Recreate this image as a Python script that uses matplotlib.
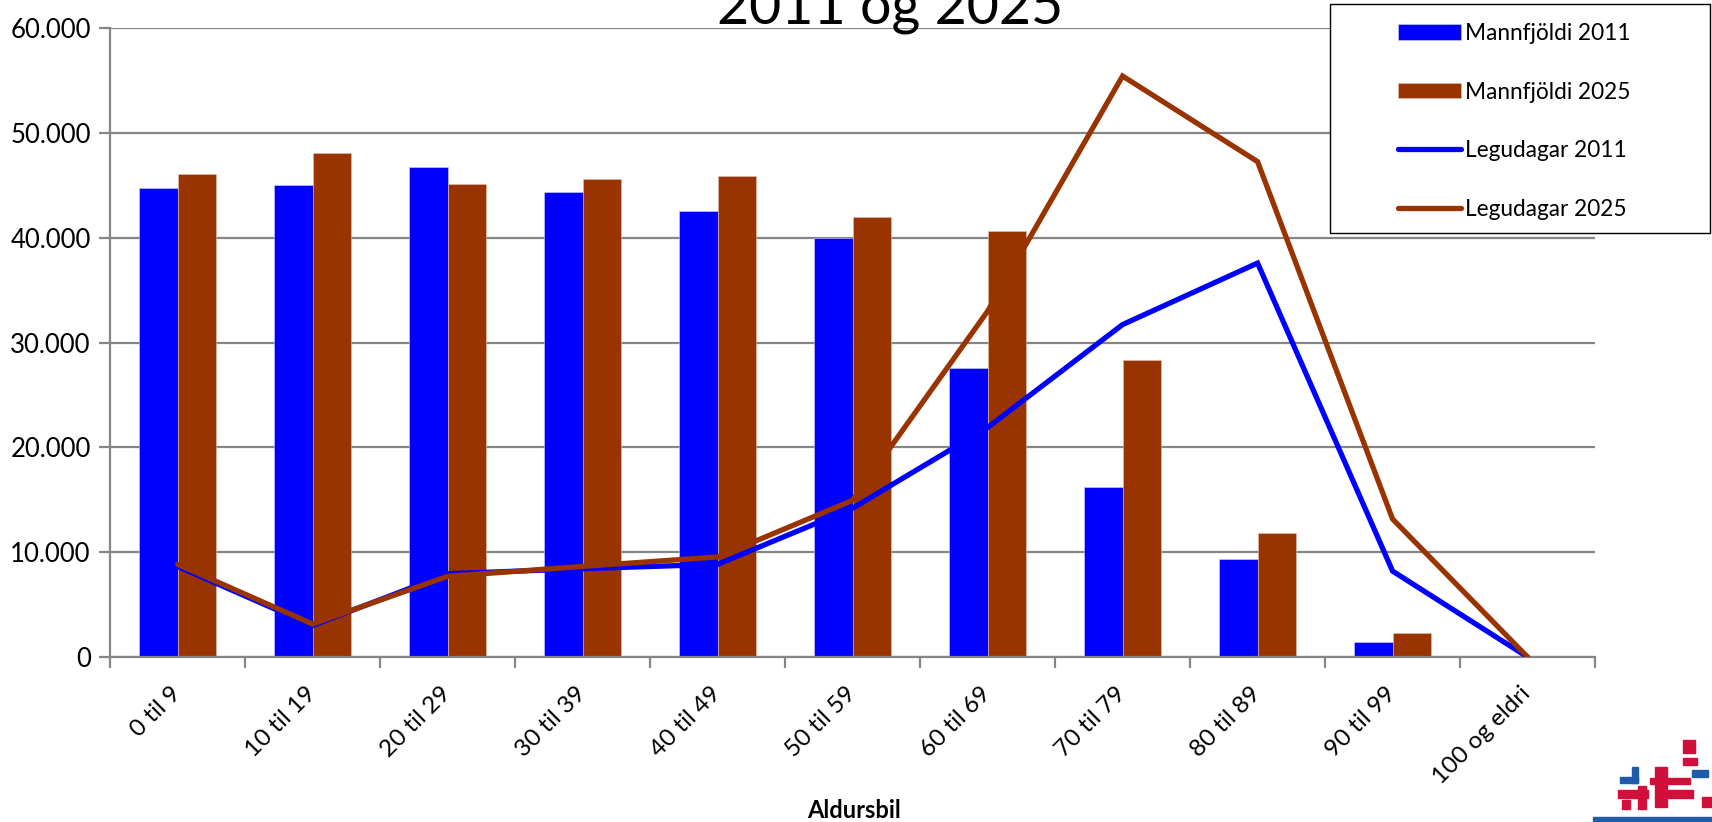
import matplotlib
matplotlib.use("Agg")
import matplotlib.pyplot as plt
import numpy as np
from matplotlib.patches import Rectangle

plt.rcParams['font.family'] = ['Lato', 'DejaVu Sans']

categories = ["0 til 9", "10 til 19", "20 til 29", "30 til 39", "40 til 49",
              "50 til 59", "60 til 69", "70 til 79", "80 til 89", "90 til 99",
              "100 og eldri"]
mannfjoldi_2011 = [44780, 45060, 46750, 44390, 42600, 39950, 27550, 16200, 9400, 1420, 0]
mannfjoldi_2025 = [46120, 48100, 45130, 45660, 45900, 41980, 40680, 28360, 11820, 2300, 0]
legudagar_2011 = [8650, 3000, 7950, 8430, 8850, 14200, 21900, 31730, 37600, 8200, 0]
legudagar_2025 = [8850, 3150, 7700, 8650, 9550, 14950, 33000, 55450, 47280, 13170, 0]
yticks = [0, 10000, 20000, 30000, 40000, 50000, 60000]
ytick_labels = ["0", "10.000", "20.000", "30.000", "40.000", "50.000", "60.000"]

BLUE = "#0000FF"
BROWN = "#993300"
GRID = "#868686"
W, H = 1712, 822

fig = plt.figure(figsize=(17.12, 8.22), dpi=100)
ax = fig.add_axes([0.0643, 0.2007, 0.9317 - 0.0643, 0.9655 - 0.2007])

x = np.arange(len(categories))
w = 0.283
b1 = ax.bar(x - w / 2, mannfjoldi_2011, width=w, color=BLUE, edgecolor="#d0d0ff", linewidth=0.4,
            label="Mannfjöldi 2011", zorder=2)
b2 = ax.bar(x + w / 2, mannfjoldi_2025, width=w, color=BROWN, edgecolor="#e0c0b0", linewidth=0.4,
            label="Mannfjöldi 2025", zorder=2)
l1, = ax.plot(x, legudagar_2011, color=BLUE, linewidth=3.8, solid_capstyle="round",
              solid_joinstyle="miter", label="Legudagar 2011", zorder=3)
l2, = ax.plot(x, legudagar_2025, color=BROWN, linewidth=3.8, solid_capstyle="round",
              solid_joinstyle="miter", label="Legudagar 2025", zorder=4)

ax.set_xlim(-0.5, len(categories) - 0.5)
ax.set_ylim(0, 60000)
ax.set_yticks(yticks)
ax.set_yticklabels(ytick_labels, fontsize=18.5)
ax.yaxis.grid(True, color=GRID, linewidth=1.6, zorder=0)
ax.set_axisbelow(True)

ax.set_xticks(np.arange(len(categories) + 1) - 0.5)
ax.set_xticklabels([])
ax.set_xticks(x, minor=True)
ax.set_xticklabels(categories, minor=True, rotation=45, ha="right", va="center",
                   rotation_mode="anchor", fontsize=17.5)
ax.tick_params(axis="x", which="minor", length=0, pad=24)
ax.tick_params(axis="x", which="major", length=8, width=1.6, color=GRID, direction="out")
ax.tick_params(axis="y", length=8, width=1.6, color=GRID, direction="out", pad=6)

for s in ["top", "right"]:
    ax.spines[s].set_visible(False)
for s in ["left", "bottom"]:
    ax.spines[s].set_color(GRID)
    ax.spines[s].set_linewidth(1.6)

fig.text(0.499, 1 - 810 / H, "Aldursbil", fontsize=17, fontweight="bold", ha="center", va="center")
fig.text(0.520, 0.971, "2011 og 2025", fontsize=40, ha="center", va="baseline")

# legend frame
fig.patches.append(Rectangle((1330 / W, 1 - 232.6 / H), 380 / W, 228.2 / H,
                             transform=fig.transFigure, facecolor="white",
                             edgecolor="black", linewidth=1.0, zorder=5))
leg = fig.legend([b1, b2, l1, l2],
                 ["Mannfjöldi 2011", "Mannfjöldi 2025", "Legudagar 2011", "Legudagar 2025"],
                 loc="upper left", bbox_to_anchor=(1397.5 / W, 1 - 23 / H), fontsize=16.3,
                 frameon=False, borderpad=0, labelspacing=1.66, handlelength=2.8,
                 handleheight=0.67, handletextpad=0.2, borderaxespad=0)
leg.set_zorder(6)

# decorative logo fragment (bottom right)
logo = [
    (1683, 740, 12, 13, "#d0103a"), (1683, 758, 14, 7, "#d0103a"),
    (1692, 770, 16, 7, "#1f5ba8"), (1632, 767, 6, 16, "#1f5ba8"),
    (1620, 777, 18, 6, "#1f5ba8"), (1655, 767, 12, 40, "#d0103a"),
    (1650, 778, 40, 6, "#d0103a"), (1668, 790, 25, 8, "#d0103a"),
    (1618, 790, 30, 8, "#d0103a"), (1622, 800, 8, 9, "#d0103a"),
    (1638, 786, 8, 23, "#d0103a"), (1702, 797, 10, 10, "#d0103a"),
    (1593, 817, 119, 5, "#1f5ba8"),
]
for (lx, ly, lw, lh, c) in logo:
    fig.patches.append(Rectangle((lx / W, 1 - (ly + lh) / H), lw / W, lh / H,
                                 transform=fig.transFigure, color=c, zorder=0))

fig.savefig("out.png", dpi=100)
